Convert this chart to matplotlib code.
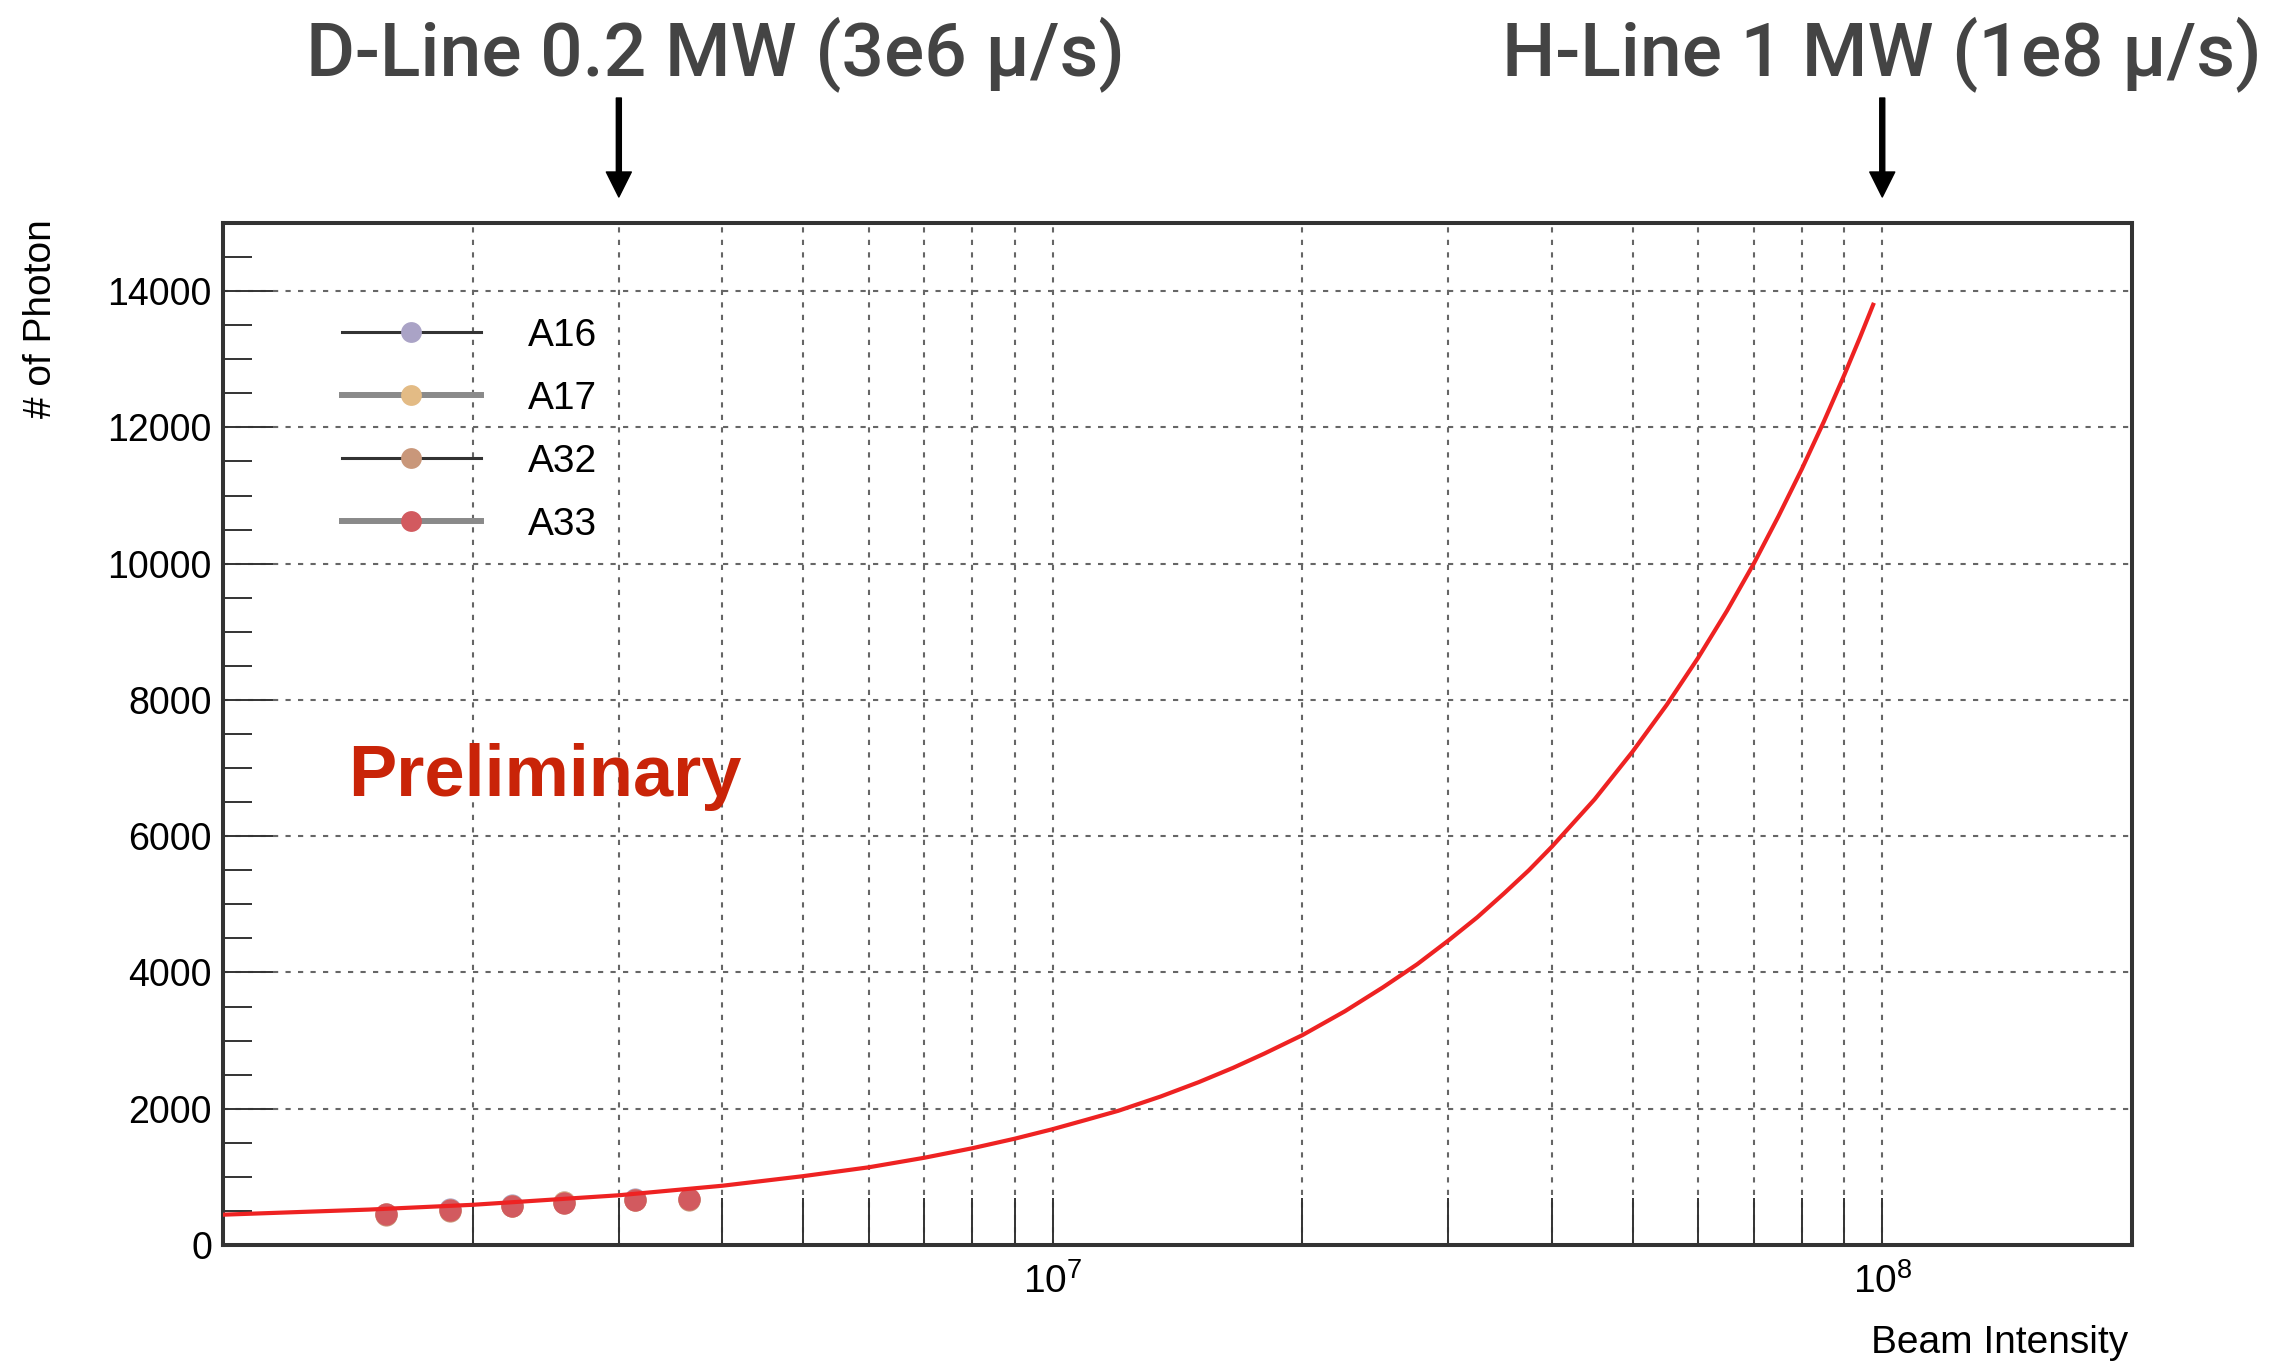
import matplotlib.pyplot as plt
from matplotlib.lines import Line2D
from matplotlib.ticker import FixedLocator, MultipleLocator, NullFormatter

plt.rcParams['font.family'] = ['Liberation Sans', 'DejaVu Sans']

# beam intensity of the measured points
beam = [1.57e6, 1.88e6, 2.23e6, 2.58e6, 3.14e6, 3.65e6]
# photon counts per sensor (they sit almost on top of each other)
a16 = [462, 522, 584, 632, 672, 680]
a17 = [455, 515, 577, 625, 665, 673]
a32 = [444, 503, 566, 614, 654, 662]
a33 = [450, 510, 572, 620, 660, 668]

series = ['A16', 'A17', 'A32', 'A33']
colors = ['#aaa3c6', '#e3bb85', '#c9977a', '#d25a5f']
leg_line = ['#333333', '#8a8a8a', '#333333', '#8a8a8a']

# fit curve
fit_x = [1e6, 1.5e6, 2e6, 3e6, 4e6, 5e6, 6e6, 7e6, 8e6, 9e6, 1e7,
         1.1e7, 1.2e7, 1.35e7, 1.5e7, 1.65e7, 1.8e7, 2e7, 2.25e7, 2.5e7,
         2.75e7, 3e7, 3.25e7, 3.5e7, 3.75e7, 4e7, 4.5e7, 5e7, 5.5e7, 6e7,
         6.5e7, 7e7, 7.5e7, 8e7, 8.5e7, 9e7, 9.4e7, 9.75e7]
fit_y = [445, 520, 590, 730, 870, 1010, 1140, 1280, 1420, 1560, 1700,
         1840, 1970, 2180, 2390, 2600, 2810, 3080, 3430, 3780,
         4120, 4470, 4810, 5160, 5500, 5850, 6540, 7240, 7930, 8620,
         9310, 10000, 10700, 11390, 12080, 12770, 13320, 13800]

# arrows at the top
marks = [3e6, 1e8]
mark_text = ['D-Line 0.2 MW (3e6 μ/s)', 'H-Line 1 MW (1e8 μ/s)']
mark_text_x = [715, 1882]

W, H = 2289, 1364
fig = plt.figure(figsize=(W / 100, H / 100), dpi=100)
ax = fig.add_axes([223 / W, (H - 1245) / H, 1909 / W, 1022 / H])

for name, vals, c in zip(series, [a16, a17, a32, a33], colors):
    ax.plot(beam, vals, 'o', color=c, ms=16, mew=0, zorder=3)
ax.plot(fit_x, fit_y, color='#ee2222', lw=3, zorder=4)

ax.set_xscale('log')
ax.set_xlim(1e6, 2e8)
ax.set_ylim(0, 15000)
ax.xaxis.set_major_locator(FixedLocator([1e7, 1e8]))
ax.xaxis.set_minor_locator(FixedLocator([k * 10.0 ** e for e in (6, 7) for k in range(2, 10)]))
ax.xaxis.set_minor_formatter(NullFormatter())
ax.yaxis.set_major_locator(MultipleLocator(2000))
ax.yaxis.set_minor_locator(MultipleLocator(500))

ax.tick_params(which='both', direction='in', top=False, right=False,
               colors='#333333', labelcolor='black')
ax.tick_params(axis='y', which='major', length=36, width=1.4, labelsize=27, pad=8)
ax.tick_params(axis='y', which='minor', length=21, width=1.4)
ax.tick_params(axis='x', which='both', length=34, width=1.4, labelsize=28, pad=13)
for s in ax.spines.values():
    s.set_linewidth(2.9)
    s.set_color('#333333')

ax.grid(True, which='major', color='#666666', lw=1.5, ls=(0, (2.5, 3.5)))
ax.xaxis.grid(True, which='minor', color='#666666', lw=1.5, ls=(0, (2.5, 3.5)))
ax.set_axisbelow(True)

handles = [Line2D([], [], color=lc, lw=lw, marker='o', ms=15, mfc=c, mec=c, mew=0)
           for lc, c, lw in zip(leg_line, colors, [2.2, 4.3, 2.2, 4.3])]
ax.legend(handles, series, loc='upper left', bbox_to_anchor=(0.0623, 0.907),
          frameon=False, fontsize=28, handlelength=3.57, handletextpad=1.2,
          labelspacing=0.69, borderpad=0, borderaxespad=0)

ax.text(0.0655, 0.4393, 'Preliminary', transform=ax.transAxes, color='#c92408',
        fontsize=52, fontweight='bold', va='baseline', ha='left')

for m, t, tx in zip(marks, mark_text, mark_text_x):
    ax.annotate('', xy=(m, 1 + 26 / 1022), xycoords=('data', 'axes fraction'),
                xytext=(m, 1 + 125 / 1022), textcoords=('data', 'axes fraction'),
                arrowprops=dict(width=3.6, headwidth=18, headlength=18, shrink=0,
                                color='black'), annotation_clip=False)
    fig.text(tx / W, (H - 76) / H, t, ha='center', va='baseline',
             fontsize=54, color='#444444', family=['Roboto', 'DejaVu Sans'],
             fontweight='medium')

fig.text(41 / W, (H - 219) / H, '# of Photon', rotation=90, ha='center', va='top', fontsize=28)
fig.text(2128 / W, 11 / H, 'Beam Intensity', ha='right', va='baseline', fontsize=28)

fig.savefig('out.png', dpi=100)
